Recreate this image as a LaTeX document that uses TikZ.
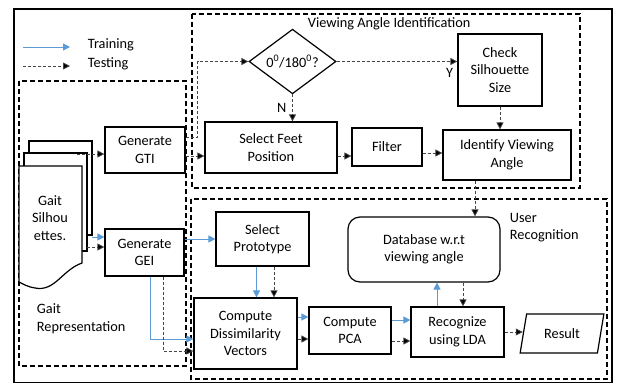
\documentclass[tikz,border=0pt]{standalone}
\usepackage{fontspec}
\setmainfont{Carlito}
\usetikzlibrary{arrows.meta,calc,shapes.geometric}

\definecolor{trainblue}{RGB}{91,155,213}
\definecolor{testgrey}{RGB}{70,70,70}

\begin{document}
\begin{tikzpicture}[x=1pt,y=1pt,yscale=-1,xscale=1,
    every node/.style={font=\fontsize{14.3}{17.5}\selectfont},
    box/.style={draw,line width=1.2pt,fill=white,align=center,inner sep=1pt},
    group/.style={draw,line width=1.3pt,dash pattern=on 5pt off 3pt},
    train/.style={draw=trainblue,line width=1pt,-{Triangle[length=7pt,width=7pt,fill=trainblue]}},
    test/.style={draw=testgrey,line width=0.8pt,dash pattern=on 3pt off 2pt,-{Triangle[length=7pt,width=7pt,fill=black]}},
    lbl/.style={inner sep=0.75pt}]
    \useasboundingbox (0,0) rectangle (617,383);

    %Shape: Outer frame
    \draw [line width=1.2pt] (14,9) rectangle (612,382.5);

    %Shape: Group boxes
    \draw [group] (19,81) rectangle (186,366);
    \draw [group] (192,14) rectangle (580,188);
    \draw [group] (191,199) rectangle (607,379);

    % Legend
    \coordinate (trs) at (23,47);
    \coordinate (tes) at (23,66);
    \draw [train] (trs) -- ++(47,0);
    \draw [test] (tes) -- ++(47,0);
    \node [lbl,anchor=west] (trtxt) at (87,45) {Training};
    \node [lbl,anchor=west] (tetxt) at (87,64) {Testing};

    %Shape: Gait silhouettes (document stack)
    \draw [line width=1.2pt,fill=white] (29,141) rectangle (92,235);
    \draw [line width=1.2pt,fill=white] (24,153) rectangle (87,251);
    \draw [line width=1.2pt,fill=white] (19,166) -- (82,166) -- (82,263)
        .. controls (62,270) and (55,292) .. (35,288)
        .. controls (28,287) and (23,284) .. (19,282) -- cycle;
    \node [lbl,align=center] (sil) at (50,218) {Gait\\Silhou\\ettes.};

    % Text Node
    \node [lbl,anchor=north west,align=left] (reptxt) at (36,303) {Gait\\Representation};
    \node [lbl,anchor=west] (viewtxt) at (307,24) {Viewing Angle Identification};
    \node [lbl,anchor=north west,align=left] (usertxt) at (509,212) {User\\Recognition};

    %Shape: Process boxes
    \node [box,minimum width=80,minimum height=46] (gti) at (145,150) {Generate\\GTI};
    \node [box,minimum width=79,minimum height=47] (gei) at (144.5,252.5) {Generate\\GEI};
    \node [box,shape=diamond,inner sep=0pt,minimum width=87,minimum height=57] (dia) at (292.5,61.5) {0\textsuperscript{0}/180\textsuperscript{0}?};
    \node [box,minimum width=84,minimum height=72] (check) at (500,70) {Check\\Silhouette\\Size};
    \node [box,minimum width=132,minimum height=51] (feet) at (271,147.5) {Select Feet\\Position};
    \node [box,minimum width=70,minimum height=38] (filter) at (387,147) {Filter};
    \node [box,minimum width=128,minimum height=50] (ident) at (507,155) {Identify Viewing\\Angle};
    \node [box,minimum width=93,minimum height=54] (proto) at (262.5,239) {Select\\Prototype};
    \node [box,minimum width=103,minimum height=71] (dissim) at (245.5,333.5) {Compute\\Dissimilarity\\Vectors};
    \node [box,minimum width=82,minimum height=47] (pca) at (350,330.5) {Compute\\PCA};
    \node [box,minimum width=93,minimum height=50] (lda) at (457.5,332) {Recognize\\using LDA};
    \node [box,rounded corners=12pt,minimum width=152,minimum height=65] (db) at (424,249.5) {Database w.r.t\\viewing angle};
    \node [box,shape=trapezium,trapezium left angle=74,trapezium right angle=106,trapezium stretches=true,minimum width=84,minimum height=39] (res) at (562,333.5) {Result};

    %Straight Lines: silhouettes to GTI / GEI
    \coordinate (s1) at (77,154);
    \coordinate (s2) at (92,237);
    \coordinate (s3) at (87,247);
    \draw [test] (s1) -- (s1 -| gti.west);
    \draw [train] (s2) -- (s2 -| gei.west);
    \draw [test] (s3) -- (s3 -| gei.west);

    %Straight Lines: viewing angle part
    \coordinate (g1) at ($(gti.east)+(0,-13)$);
    \coordinate (g2) at ($(gti.east)+(0,6)$);
    \draw [test] (g1) -- ++(12,0) |- (dia.west);
    \draw [test] (g2) -- (g2 -| feet.west);
    \draw [test] (dia.south) -- (dia.south |- feet.north) node [lbl,midway,left=5pt] {N};
    \draw [test] (dia.east) -- (dia.east -| check.west) node [lbl,pos=1,anchor=north east,inner xsep=4pt,inner ysep=6pt] {Y};
    \draw [test] (check.south) -- (check.south |- ident.north);
    \coordinate (f1) at ($(feet.east)+(0,8.5)$);
    \coordinate (f2) at ($(filter.east)+(0,6)$);
    \draw [test] (f1) -- (f1 -| filter.west);
    \draw [test] (f2) -- (f2 -| ident.west);
    \coordinate (i1) at ($(ident.south)+(-32,0)$);
    \draw [test] (i1) -- (i1 |- db.north);

    %Straight Lines: user recognition part
    \draw [train] (gei.east |- proto.west) -- (proto.west);
    \coordinate (p1) at ($(proto.south)+(-6,0)$);
    \coordinate (p2) at ($(proto.south)+(11.5,0)$);
    \draw [train] (p1) -- (p1 |- dissim.north);
    \draw [test] (p2) -- (p2 |- dissim.north);
    \coordinate (e1) at ($(gei.south)+(5.5,0)$);
    \coordinate (e2) at ($(gei.south)+(18.5,0)$);
    \coordinate (d1) at ($(dissim.west)+(0,5.5)$);
    \coordinate (d2) at ($(dissim.west)+(0,17.5)$);
    \draw [train] (e1) |- (d1);
    \draw [test] (e2) |- (d2);
    \coordinate (v1) at ($(dissim.east)+(0,-16.5)$);
    \coordinate (v2) at ($(dissim.east)+(0,5.5)$);
    \draw [train] (v1) -- (v1 -| pca.west);
    \draw [test] (v2) -- (v2 -| pca.west);
    \coordinate (c1) at ($(pca.east)+(0,-10.5)$);
    \coordinate (c2) at ($(pca.east)+(0,10.5)$);
    \draw [train] (c1) -- (c1 -| lda.west);
    \draw [test] (c2) -- (c2 -| lda.west);
    \coordinate (l1) at ($(lda.north)+(-20.5,0)$);
    \coordinate (l2) at ($(db.south)+(39,0)$);
    \draw [train] (l1) -- (l1 |- db.south);
    \draw [test] (l2) -- (l2 |- lda.north);
    \draw [test] (lda.east) -- (lda.east -| res.west);

\end{tikzpicture}
\end{document}
